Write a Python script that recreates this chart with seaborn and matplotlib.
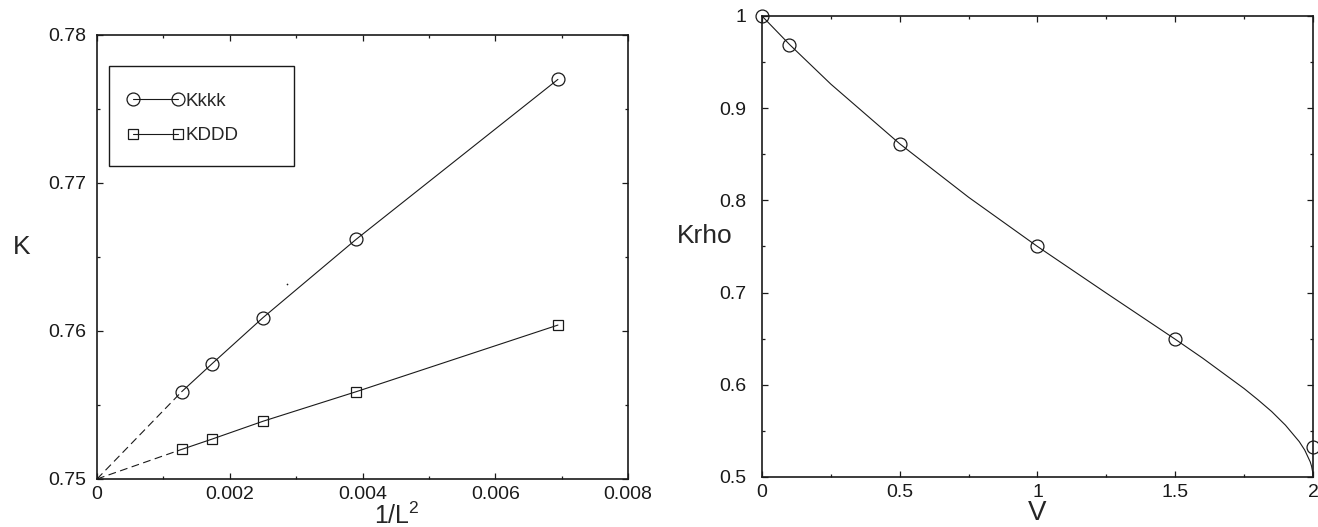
import numpy as np
import matplotlib
matplotlib.use("Agg")
import matplotlib.pyplot as plt
import matplotlib.ticker as mticker
from matplotlib.patches import Rectangle
import seaborn as sns

# ---- data (left panel) ----
inv_L2 = [0.001276, 0.001736, 0.0025, 0.003906, 0.006944]
K_kkk = [0.7559, 0.7578, 0.7609, 0.7662, 0.7770]
K_DDD = [0.7520, 0.7527, 0.7539, 0.7559, 0.7604]
extrap_x = [0.0, 0.001276]
extrap_kkk = [0.75, 0.7559]
extrap_DDD = [0.75, 0.7520]
stray_x = [0.00286]
stray_y = [0.7632]

# ---- data (right panel) ----
V_pts = [0.0, 0.1, 0.5, 1.0, 1.5, 2.0]
Krho_pts = [1.0, 0.969, 0.861, 0.750, 0.650, 0.533]
V_curve = [0.0, 0.1, 0.25, 0.5, 0.75, 1.0, 1.25, 1.5, 1.6, 1.75, 1.8, 1.85,
           1.9, 1.95, 1.97, 1.99, 1.995, 1.999, 2.0]
Krho_curve = [1.0, 0.9691, 0.9261, 0.8614, 0.8034, 0.75, 0.6994, 0.6494,
              0.6288, 0.5959, 0.5838, 0.5710, 0.5562, 0.5384, 0.5292,
              0.5164, 0.5115, 0.5051, 0.5]

sns.set_theme(style="ticks")
plt.rcParams["font.family"] = ["Liberation Sans", "DejaVu Sans"]
plt.rcParams["mathtext.default"] = "regular"
plt.rcParams["mathtext.fontset"] = "custom"
plt.rcParams["mathtext.rm"] = "Liberation Sans"

fig = plt.figure(figsize=(13.18, 5.27), dpi=100)
axL = fig.add_axes([0.0736, 0.0911, 0.4029, 0.8425])
axR = fig.add_axes([0.5781, 0.0949, 0.4181, 0.8748])

lw = 0.8
# left panel
sns.lineplot(x=extrap_x, y=extrap_kkk, ax=axL, color="k", lw=lw,
             linestyle=(0, (7, 4)))
sns.lineplot(x=extrap_x, y=extrap_DDD, ax=axL, color="k", lw=lw,
             linestyle=(0, (7, 4)))
sns.lineplot(x=inv_L2, y=K_kkk, ax=axL, color="k", lw=lw, marker="o",
             markersize=9.3, markerfacecolor="none", markeredgecolor="k",
             markeredgewidth=0.9, label="Kkkk")
sns.lineplot(x=inv_L2, y=K_DDD, ax=axL, color="k", lw=lw, marker="s",
             markersize=7.8, markerfacecolor="none", markeredgecolor="k",
             markeredgewidth=0.9, label="KDDD")
sns.scatterplot(x=stray_x, y=stray_y, ax=axL, color="k", s=1.5,
                linewidth=0)

axL.set_xlim(0, 0.008)
axL.set_ylim(0.75, 0.78)
axL.xaxis.set_major_locator(mticker.MultipleLocator(0.002))
axL.xaxis.set_minor_locator(mticker.MultipleLocator(0.001))
axL.yaxis.set_major_locator(mticker.MultipleLocator(0.01))
axL.yaxis.set_minor_locator(mticker.MultipleLocator(0.005))
axL.xaxis.set_major_formatter(mticker.FormatStrFormatter("%g"))
axL.yaxis.set_major_formatter(mticker.FormatStrFormatter("%g"))

handles = [l for l in axL.lines if l.get_label() in ("Kkkk", "KDDD")]
leg = axL.legend(handles=handles, labels=["Kkkk", "KDDD"], frameon=False,
                 loc="center left", bbox_to_anchor=(0.058, 0.812),
                 borderpad=0, borderaxespad=0, handlelength=3.0,
                 handletextpad=0.1, labelspacing=0.95, numpoints=2,
                 fontsize=13.5)
axL.add_patch(Rectangle((0.0226, 0.705), 0.3484, 0.225, transform=axL.transAxes,
                        fill=False, edgecolor="k", lw=1.0, zorder=5))

axL.set_xlabel("1/L$^2$", fontsize=18)
axL.xaxis.set_label_coords(0.565, -0.054)
axL.set_ylabel("K", fontsize=19, rotation=0, ha="center", va="center")
axL.yaxis.set_label_coords(-0.142, 0.523)

# right panel
sns.lineplot(x=V_curve, y=Krho_curve, ax=axR, color="k", lw=lw)
sns.lineplot(x=V_pts, y=Krho_pts, ax=axR, color="k", lw=0, marker="o",
             markersize=9.3, markerfacecolor="none", markeredgecolor="k",
             markeredgewidth=0.9, clip_on=False)
axR.set_xlim(0, 2)
axR.set_ylim(0.5, 1.0)
axR.xaxis.set_major_locator(mticker.MultipleLocator(0.5))
axR.xaxis.set_minor_locator(mticker.MultipleLocator(0.25))
axR.yaxis.set_major_locator(mticker.MultipleLocator(0.1))
axR.yaxis.set_minor_locator(mticker.MultipleLocator(0.05))
axR.xaxis.set_major_formatter(mticker.FormatStrFormatter("%g"))
axR.yaxis.set_major_formatter(mticker.FormatStrFormatter("%g"))
axR.set_xlabel("V", fontsize=20)
axR.xaxis.set_label_coords(0.5, -0.05)
axR.set_ylabel("Krho", fontsize=19, rotation=0, ha="center", va="center")
axR.yaxis.set_label_coords(-0.103, 0.522)

for ax, ypad in ((axL, 8), (axR, 11)):
    for s in ax.spines.values():
        s.set_visible(True)
        s.set_linewidth(1.2)
        s.set_color("k")
    ax.tick_params(which="both", direction="in", top=True, right=True,
                   colors="k", labelsize=14)
    ax.tick_params(which="major", length=4.5, width=0.9)
    ax.tick_params(which="minor", length=2.5, width=0.9)
    ax.tick_params(axis="y", which="major", pad=ypad)
    ax.tick_params(axis="x", which="major", pad=5)
    for t in ax.get_xticklabels() + ax.get_yticklabels():
        t.set_color("k")

fig.savefig("out.png", dpi=100, facecolor="white")
